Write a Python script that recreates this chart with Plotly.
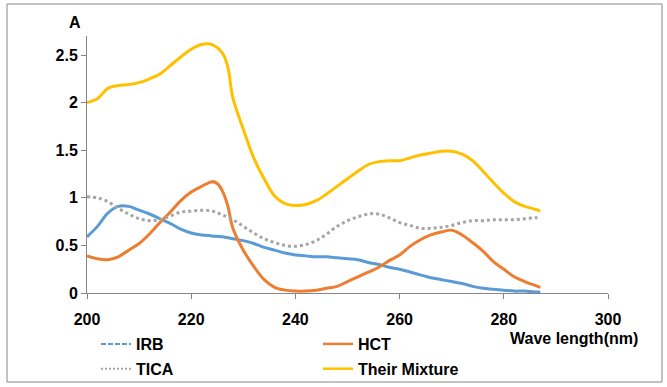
import plotly.graph_objects as go

# ---- data ----
irb_x = [200, 202, 204, 206, 208, 210, 212, 214, 216, 218, 220, 222, 224, 226, 228, 230, 232, 234, 236, 238,
         240, 242, 244, 246, 248, 250, 252, 254, 256, 258, 260, 262, 264, 266, 268, 270, 272, 274, 276, 278,
         280, 282, 284, 286, 287]
irb_y = [0.59, 0.70, 0.84, 0.91, 0.91, 0.87, 0.83, 0.78, 0.73, 0.67, 0.63, 0.61, 0.60, 0.59, 0.57, 0.55, 0.52,
         0.48, 0.45, 0.42, 0.40, 0.39, 0.38, 0.38, 0.37, 0.36, 0.35, 0.32, 0.30, 0.27, 0.25, 0.22, 0.19, 0.16,
         0.14, 0.12, 0.10, 0.07, 0.05, 0.04, 0.03, 0.02, 0.02, 0.01, 0.01]

hct_x = [200, 202, 204, 206, 208, 210, 212, 214, 216, 218, 220, 222, 224, 225, 226, 227, 228, 230, 232, 234,
         236, 238, 240, 242, 244, 246, 248, 250, 252, 254, 256, 258, 260, 262, 264, 266, 268, 270, 272, 274,
         276, 278, 280, 282, 284, 286, 287]
hct_y = [0.39, 0.36, 0.35, 0.38, 0.45, 0.52, 0.62, 0.74, 0.85, 0.97, 1.06, 1.12, 1.17, 1.15, 1.07, 0.92, 0.68,
         0.45, 0.28, 0.14, 0.06, 0.03, 0.02, 0.02, 0.03, 0.05, 0.07, 0.12, 0.17, 0.22, 0.27, 0.34, 0.40, 0.49,
         0.56, 0.61, 0.64, 0.66, 0.61, 0.53, 0.44, 0.33, 0.25, 0.17, 0.12, 0.08, 0.06]

tica_x = [200, 202, 204, 206, 208, 210, 212, 214, 216, 218, 220, 222, 224, 226, 228, 230, 232, 234, 236, 238,
          240, 242, 244, 246, 248, 250, 252, 254, 256, 258, 260, 262, 264, 266, 268, 270, 272, 274, 276, 278,
          280, 282, 284, 286, 287]
tica_y = [1.01, 1.00, 0.96, 0.89, 0.83, 0.78, 0.76, 0.77, 0.81, 0.85, 0.86, 0.87, 0.86, 0.82, 0.77, 0.70, 0.63,
          0.57, 0.53, 0.50, 0.49, 0.51, 0.55, 0.62, 0.70, 0.76, 0.80, 0.83, 0.83, 0.79, 0.74, 0.71, 0.68, 0.68,
          0.69, 0.71, 0.74, 0.76, 0.76, 0.77, 0.77, 0.77, 0.78, 0.79, 0.79]

mix_x = [200, 202, 204, 206, 208, 210, 212, 214, 216, 218, 220, 222, 224, 226, 227, 228, 230, 232, 234, 236,
         238, 240, 242, 244, 246, 248, 250, 252, 254, 256, 258, 260, 262, 264, 266, 268, 270, 272, 274, 276,
         278, 280, 282, 284, 286, 287]
mix_y = [2.00, 2.04, 2.15, 2.18, 2.19, 2.21, 2.25, 2.30, 2.39, 2.48, 2.56, 2.61, 2.61, 2.52, 2.38, 2.05, 1.72,
         1.42, 1.20, 1.02, 0.94, 0.92, 0.93, 0.97, 1.04, 1.12, 1.20, 1.28, 1.35, 1.38, 1.39, 1.39, 1.42, 1.45,
         1.47, 1.49, 1.49, 1.46, 1.39, 1.28, 1.16, 1.05, 0.96, 0.91, 0.88, 0.86]

series_names = ["IRB", "HCT", "TICA", "Their Mixture"]
x_ticks = [200, 220, 240, 260, 280, 300]
y_ticks = [0, 0.5, 1, 1.5, 2, 2.5]
y_tick_text = ["0", "0.5", "1", "1.5", "2", "2.5"]

C_IRB = "#5B9BD5"
C_HCT = "#ED7D31"
C_TICA = "#A5A5A5"
C_MIX = "#FFC000"
FONT = "Liberation Sans, Arial, sans-serif"

fig = go.Figure()

# plotted curves (legend entries are drawn separately, as in the original)
fig.add_trace(go.Scatter(x=irb_x, y=irb_y, mode="lines", line=dict(color=C_IRB, width=3, shape="spline"),
                         showlegend=False))
fig.add_trace(go.Scatter(x=hct_x, y=hct_y, mode="lines", line=dict(color=C_HCT, width=3, shape="spline"),
                         showlegend=False))
fig.add_trace(go.Scatter(x=tica_x, y=tica_y, mode="lines", line=dict(color=C_TICA, width=3, dash="dot",
                         shape="spline"), showlegend=False))
fig.add_trace(go.Scatter(x=mix_x, y=mix_y, mode="lines", line=dict(color=C_MIX, width=3, shape="spline"),
                         showlegend=False))

# legend entries
fig.add_trace(go.Scatter(x=[None], y=[None], mode="lines", name=series_names[0],
                         line=dict(color=C_IRB, width=2, dash="5px,2px"), legend="legend", legendgroup="a"))
fig.add_trace(go.Scatter(x=[None], y=[None], mode="lines", name=series_names[2],
                         line=dict(color=C_TICA, width=2, dash="2px,2px"), legend="legend", legendgroup="b"))
fig.add_trace(go.Scatter(x=[None], y=[None], mode="lines", name=series_names[1],
                         line=dict(color=C_HCT, width=2.5), legend="legend2", legendgroup="c"))
fig.add_trace(go.Scatter(x=[None], y=[None], mode="lines", name=series_names[3],
                         line=dict(color=C_MIX, width=2.5), legend="legend2", legendgroup="d"))

L, R, T, B = 87, 59, 36, 94
W, H = 667, 387
pw, ph = W - L - R, H - T - B


def px(xp):
    return (xp - L) / pw


def py(yp):
    return (H - B - yp) / ph


legend_common = dict(
    font=dict(family=FONT, size=16, color="#000000", weight="bold"),
    bgcolor="rgba(0,0,0,0)", orientation="v", xanchor="left", yanchor="top",
    tracegroupgap=1, itemwidth=30,
)

fig.update_layout(
    width=W, height=H,
    margin=dict(l=L, r=R, t=T, b=B, autoexpand=False),
    paper_bgcolor="white", plot_bgcolor="white",
    font=dict(family=FONT, size=16, color="#000000"),
    xaxis=dict(range=[200, 300], tickvals=x_ticks, ticks="outside", ticklen=5, tickcolor="#868686",
               showline=True, linecolor="#868686", linewidth=1, showgrid=False, zeroline=False,
               tickfont=dict(family=FONT, size=16, color="#000000", weight="bold"), ticklabelstandoff=7),
    yaxis=dict(range=[0, 2.7], tickvals=y_ticks, ticktext=y_tick_text, ticks="outside", ticklen=5,
               tickcolor="#868686", showline=True, linecolor="#868686", linewidth=1, showgrid=False,
               zeroline=False, tickfont=dict(family=FONT, size=16, color="#000000", weight="bold")),
    legend=dict(x=px(96), y=py(327), **legend_common),
    legend2=dict(x=px(318), y=py(327), **legend_common),
    shapes=[dict(type="rect", xref="paper", yref="paper", x0=px(7), x1=px(662), y0=py(382), y1=py(4),
                 line=dict(color="#868686", width=1), fillcolor="rgba(0,0,0,0)", layer="below")],
    annotations=[
        dict(text="A", xref="paper", yref="paper", x=px(75), y=py(23), showarrow=False,
             xanchor="center", yanchor="middle",
             font=dict(family=FONT, size=16, color="#000000", weight="bold")),
        dict(text="Wave length(nm)", xref="paper", yref="paper", x=px(574), y=py(338), showarrow=False,
             xanchor="center", yanchor="middle",
             font=dict(family=FONT, size=16, color="#000000", weight="bold")),
    ],
)

fig.write_html("out.html", config={"displayModeBar": False},
               post_script="document.body.style.margin='0';")
